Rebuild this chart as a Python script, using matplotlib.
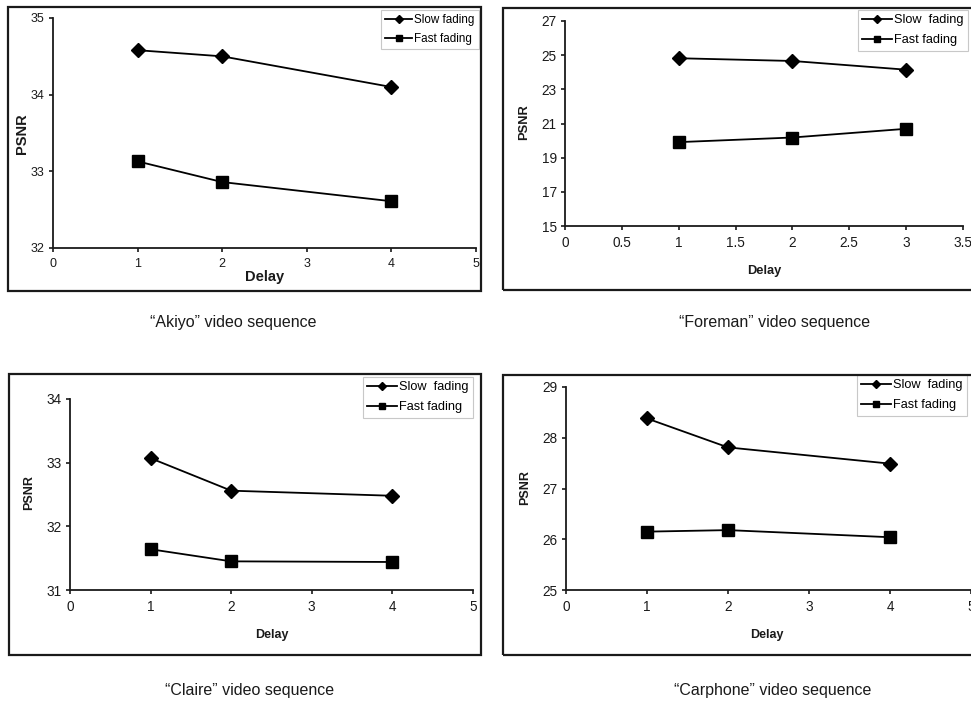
import numpy as np
import matplotlib
matplotlib.use('Agg')
import matplotlib.pyplot as plt
from matplotlib.patches import Rectangle
from matplotlib.ticker import FuncFormatter

plt.rcParams['font.family'] = ['Liberation Sans', 'DejaVu Sans']

""" Data (read off the picture) """

akiyo_delay = [1, 2, 4]
akiyo_slow = [34.58, 34.50, 34.10]
akiyo_fast = [33.13, 32.86, 32.61]

foreman_delay = [1, 2, 3]
foreman_slow = [24.82, 24.66, 24.15]
foreman_fast = [19.91, 20.18, 20.69]

claire_delay = [1, 2, 4]
claire_slow = [33.07, 32.56, 32.48]
claire_fast = [31.64, 31.45, 31.44]

carphone_delay = [1, 2, 4]
carphone_slow = [28.38, 27.81, 27.49]
carphone_fast = [26.15, 26.18, 26.04]

captions = ['\u201cAkiyo\u201d video sequence', '\u201cForeman\u201d video sequence',
            '\u201cClaire\u201d video sequence', '\u201cCarphone\u201d video sequence']

W, H = 971, 702
fig = plt.figure(figsize=(W/100, H/100), dpi=100)

def fx(px):
    return px/W

def fy(py):
    return 1 - py/H

def frame(x0, y0, x1, y1):
    fig.add_artist(Rectangle((fx(x0), fy(y1)), fx(x1-x0), (y1-y0)/H,
                             transform=fig.transFigure, fill=False, lw=1.6, ec='#1a1a1a'))

def panel(box, x, slow, fast, xlim, xticks, ylim, yticks, labels, leg_xy, fs, leg_fs, lab_fs, xlab_xy, ylab_xy):
    # box = (left, top, right, bottom) in pixels
    l, t, r, b = box
    ax = fig.add_axes([fx(l), fy(b), fx(r-l), (b-t)/H])
    ax.plot(x, slow, c='black', lw=1.3, marker='D', ms=7, label=labels[0], clip_on=False)
    ax.plot(x, fast, c='black', lw=1.3, marker='s', ms=8.3, label=labels[1], clip_on=False)
    ax.set_xlim(xlim)
    ax.set_ylim(ylim)
    ax.set_xticks(xticks)
    ax.set_yticks(yticks)
    ax.xaxis.set_major_formatter(FuncFormatter(lambda v, p: '%g' % v))
    for s in ['top', 'right']:
        ax.spines[s].set_visible(False)
    for s in ['left', 'bottom']:
        ax.spines[s].set_linewidth(1.3)
        ax.spines[s].set_color('#1a1a1a')
    ax.tick_params(axis='x', direction='out', length=3, width=1.2, pad=4, labelsize=fs, colors='#1a1a1a')
    ax.tick_params(axis='y', direction='out', length=3, width=1.2, pad=3, labelsize=fs, colors='#1a1a1a')
    ax.patch.set_alpha(0)
    fig.text(fx(xlab_xy[0]), fy(xlab_xy[1]), 'Delay', fontsize=lab_fs, fontweight='bold',
             ha='center', va='center', color='#1a1a1a')
    fig.text(fx(ylab_xy[0]), fy(ylab_xy[1]), 'PSNR', fontsize=lab_fs, fontweight='bold',
             ha='center', va='center', rotation=90, color='#1a1a1a')
    leg = ax.legend(loc='upper left', bbox_to_anchor=(fx(leg_xy[0]), fy(leg_xy[1])),
                    bbox_transform=fig.transFigure, borderaxespad=0, fancybox=False,
                    framealpha=1, edgecolor='#c8c8c8', fontsize=leg_fs, markerscale=0.6,
                    handlelength=2.3, handletextpad=0.2, labelspacing=0.6, borderpad=0.35)
    leg.get_frame().set_linewidth(0.8)
    return ax

## Akiyo
frame(8, 7, 481, 291)
panel((53, 18, 476, 248), akiyo_delay, akiyo_slow, akiyo_fast, (0, 5), range(0, 6),
      (32, 35), range(32, 36), ['Slow fading', 'Fast fading'], (381, 10), 9, 8.4, 10.5,
      (265, 277), (22, 134))

## Foreman
frame(503, 8, 990, 290)
panel((565, 21, 963, 226), foreman_delay, foreman_slow, foreman_fast, (0, 3.5),
      np.arange(0, 3.51, 0.5), (15, 27), range(15, 28, 2), ['Slow  fading', 'Fast fading'],
      (858, 10), 9.8, 9.2, 9.3, (764, 271), (524, 122))

## Claire
frame(9, 374, 481, 655)
panel((70, 399, 473, 590), claire_delay, claire_slow, claire_fast, (0, 5), range(0, 6),
      (31, 34), range(31, 35), ['Slow  fading', 'Fast fading'], (363, 377), 9.8, 9.2, 9,
      (272, 635), (29, 493))

## Carphone
frame(503, 375, 990, 655)
panel((566, 387, 971, 590), carphone_delay, carphone_slow, carphone_fast, (0, 5), range(0, 6),
      (25, 29), range(25, 30), ['Slow  fading', 'Fast fading'], (857, 375), 9.8, 9.2, 9,
      (767, 635), (525, 488))

## Captions
for txt, (cx, cy) in zip(captions, [(233, 323), (775, 323), (250, 690), (773, 690)]):
    fig.text(fx(cx), fy(cy), txt, fontsize=11.5, ha='center', va='center', color='#1a1a1a')

fig.savefig('out.png', dpi=100, facecolor='white')
